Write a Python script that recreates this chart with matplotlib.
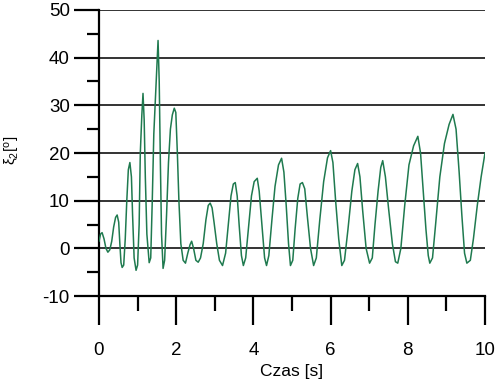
"""
Oscillation of xi_2 angle over time
"""

import matplotlib
matplotlib.use('Agg')
import matplotlib.pyplot as plt
from matplotlib.ticker import MultipleLocator

plt.rcParams['font.family'] = ['Liberation Sans', 'DejaVu Sans']
plt.rcParams['mathtext.default'] = 'regular'
plt.rcParams['axes.unicode_minus'] = False

# Values
czas = [0.00, 0.04, 0.08, 0.13, 0.18, 0.23, 0.28, 0.33, 0.38, 0.43, 0.47, 0.51,
        0.54, 0.57, 0.60, 0.64, 0.68, 0.72, 0.76, 0.80, 0.84, 0.87, 0.91, 0.96,
        1.00, 1.04, 1.07, 1.11, 1.14, 1.17, 1.20, 1.24, 1.30, 1.34, 1.38, 1.42,
        1.46, 1.50, 1.53, 1.56, 1.59, 1.62, 1.66, 1.70, 1.75, 1.80, 1.85, 1.90,
        1.95, 1.99, 2.03, 2.07, 2.12, 2.18, 2.24, 2.30, 2.36, 2.40, 2.45, 2.51,
        2.57, 2.63, 2.70, 2.77, 2.83, 2.88, 2.93, 2.98, 3.05, 3.12, 3.20, 3.28,
        3.35, 3.42, 3.48, 3.53, 3.58, 3.63, 3.69, 3.74, 3.80, 3.88, 3.95, 4.02,
        4.10, 4.15, 4.22, 4.29, 4.34, 4.40, 4.48, 4.56, 4.65, 4.73, 4.79, 4.85,
        4.91, 4.96, 5.02, 5.08, 5.15, 5.21, 5.27, 5.33, 5.40, 5.48, 5.56, 5.63,
        5.72, 5.82, 5.92, 6.00, 6.06, 6.13, 6.21, 6.29, 6.36, 6.45, 6.55, 6.63,
        6.70, 6.76, 6.83, 6.92, 7.01, 7.08, 7.15, 7.23, 7.30, 7.35, 7.42, 7.50,
        7.60, 7.68, 7.74, 7.82, 7.92, 8.03, 8.15, 8.26, 8.33, 8.40, 8.47, 8.53,
        8.57, 8.64, 8.72, 8.83, 8.95, 9.07, 9.17, 9.25, 9.33, 9.40, 9.47, 9.53,
        9.62, 9.70, 9.80, 9.90, 10.00]
xi2 = [1.5, 3.0, 3.3, 2.0, 0.0, -0.8, -0.3, 1.5, 4.5, 6.5, 7.0, 5.5,
       1.0, -3.0, -4.0, -3.5, 2.0, 10.0, 16.5, 18.0, 15.0, 7.0, -2.0, -4.6,
       -3.5, 5.0, 20.0, 28.0, 32.5, 27.0, 15.0, 3.0, -3.0, -2.0, 10.0, 24.0,
       31.0, 38.0, 43.6, 35.0, 18.0, 3.0, -4.2, -2.5, 7.0, 18.0, 25.0, 28.0,
       29.4, 28.5, 20.0, 10.0, 1.0, -2.5, -3.1, -1.0, 0.8, 1.5, 0.0, -2.5,
       -2.9, -2.0, 1.0, 6.0, 9.0, 9.5, 8.5, 5.5, 1.0, -2.5, -3.6, -1.0,
       5.0, 11.0, 13.5, 13.8, 11.0, 5.0, -1.5, -3.6, -2.0, 5.0, 11.0, 14.0,
       14.7, 12.0, 5.0, -2.0, -3.6, -1.5, 6.0, 13.0, 17.5, 18.9, 16.0, 9.0,
       1.0, -3.6, -2.5, 4.0, 10.5, 13.5, 13.8, 12.5, 6.5, 0.0, -3.6, -2.0,
       6.0, 14.0, 19.0, 20.5, 18.0, 10.0, 2.0, -3.6, -2.5, 4.0, 12.0, 16.5,
       17.8, 15.0, 8.0, 0.0, -3.1, -2.0, 5.0, 12.0, 17.0, 18.4, 15.0, 8.5,
       1.0, -2.8, -3.1, 0.0, 9.0, 17.5, 21.5, 23.5, 20.0, 12.0, 4.0, -1.5,
       -3.1, -2.0, 5.0, 15.0, 22.0, 26.0, 28.1, 25.0, 16.0, 7.0, -1.0, -3.1,
       -2.5, 2.0, 9.0, 15.0, 20.0]

fig = plt.figure(figsize=(5, 3.83), dpi=100)
ax = fig.add_axes([0.198, 0.227, 0.772, 0.747])

ax.plot(czas, xi2, color='#1f7a4f', lw=1.1, zorder=3)

ax.set_xlim(0, 10)
ax.set_ylim(-10, 50)

# horizontal grid lines
ax.grid(axis='y', which='major', color='#333333', lw=1.4)
ax.set_axisbelow(True)

for s in ['top', 'right']:
    ax.spines[s].set_visible(False)
for s in ['left', 'bottom']:
    ax.spines[s].set_linewidth(1.6)

ax.xaxis.set_major_locator(MultipleLocator(2))
ax.xaxis.set_minor_locator(MultipleLocator(1))
ax.yaxis.set_major_locator(MultipleLocator(10))
ax.yaxis.set_minor_locator(MultipleLocator(5))

ax.tick_params(axis='x', which='major', length=21, width=1.6, pad=12, labelsize=13.5)
ax.tick_params(axis='x', which='minor', length=11, width=1.6)
ax.tick_params(axis='y', which='major', length=18, width=1.6, pad=3, labelsize=13.5)
ax.tick_params(axis='y', which='minor', length=9, width=1.6)

ax.set_xlabel('Czas [s]', fontsize=12.5, labelpad=4)
ax.set_ylabel('ξ$_2$[$^o$]', fontsize=11, va='center')
ax.yaxis.set_label_coords(-0.225, 0.51)

fig.savefig('out.png', dpi=100)
